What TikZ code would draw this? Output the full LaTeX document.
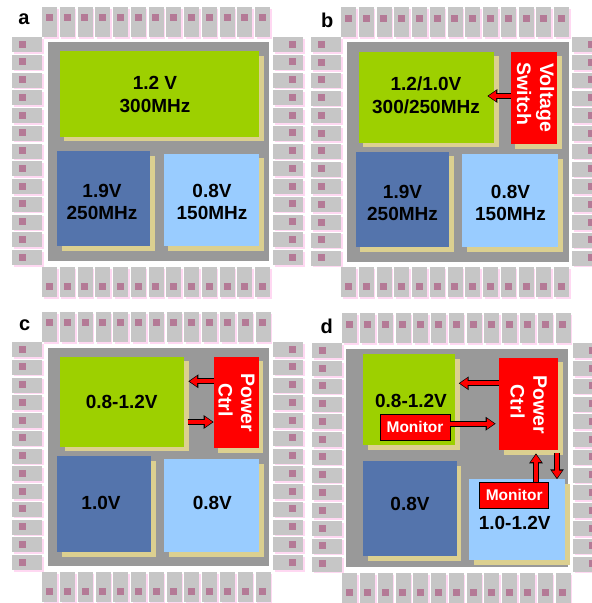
\documentclass[tikz,border=0pt]{standalone}
\usepackage{fontspec}
\setmainfont{Liberation Sans}
\usetikzlibrary{arrows.meta,fit,shadows}
\definecolor{diegrey}{HTML}{999999}
\definecolor{pingrey}{HTML}{C6C6C6}
\definecolor{pinedge}{HTML}{FFD8F2}
\definecolor{padmauve}{HTML}{B47A96}
\definecolor{cream}{HTML}{DCD090}
\definecolor{lime}{HTML}{9DD000}
\definecolor{steel}{HTML}{5474AC}
\definecolor{sky}{HTML}{99CCFF}
\definecolor{ctrlred}{HTML}{FF0000}
\newcommand{\chippins}[2]{%
\begin{scope}[shift={(#1,#2)}]
\foreach \i in {0,...,12} {
\pgfmathsetmacro{\off}{\i*17.77}
% top and bottom rows
\fill[pinedge] (\off+1.5,1.5) rectangle +(15,30);
\fill[pingrey] (\off,0) rectangle +(15,30);
\fill[padmauve] (\off+3.8,7.2) rectangle +(7,7);
\fill[pinedge] (\off+1.5,261.5) rectangle +(15,30);
\fill[pingrey] (\off,260) rectangle +(15,30);
\fill[padmauve] (\off+3.8,275.5) rectangle +(7,7);
% left and right rows
\fill[pinedge] (-28.5,\off+31.5) rectangle +(30,15);
\fill[pingrey] (-30,\off+30) rectangle +(30,15);
\fill[padmauve] (-23.1,\off+33.5) rectangle +(7,7);
\fill[pinedge] (232.5,\off+31.5) rectangle +(30,15);
\fill[pingrey] (231,\off+30) rectangle +(30,15);
\fill[padmauve] (246.5,\off+33.5) rectangle +(7,7);
}
\end{scope}}

\begin{document}
\begin{tikzpicture}[x=1pt,y=-1pt,font=\bfseries,
  area/.style={inner sep=0pt,outer sep=0pt,draw=none,drop shadow={shadow xshift=4.5pt,shadow yshift=-4.5pt,fill=cream,opacity=1}},
  greenarea/.style={area,fill=lime},
  bluearea/.style={area,fill=steel},
  skyarea/.style={area,fill=sky},
  ctrlarea/.style={area,fill=ctrlred},
  diebox/.style={inner sep=0pt,outer sep=0pt,fill=diegrey},
  panel/.style={font=\fontsize{20}{24}\selectfont\bfseries,inner sep=0pt},
  rail/.style={font=\fontsize{19}{22.7}\selectfont\bfseries,align=center,inner sep=0pt},
  ctrltext/.style={font=\fontsize{19.5}{22}\selectfont\bfseries,text=white,rotate=-90,inner sep=0pt},
  monitor/.style={draw=black,line width=.8pt,fill=ctrlred,text=white,inner sep=0pt,font=\fontsize{15.5}{18}\selectfont\bfseries},
  flow/.style={draw=ctrlred,line width=4.2pt,-{Triangle[length=7.5pt,width=10pt]},shorten >=1.3pt,
    preaction={draw=black,line width=6pt,shorten >=0pt,-{Triangle[length=10pt,width=13pt]}}}]
\useasboundingbox (0,0) rectangle (592,603);
\chippins{42}{7}
\chippins{341}{7.3}
\chippins{42.3}{312}
\chippins{342.3}{313.3}

% a
\node[diebox,fit={(48.3,42.3)(269.3,261)}] (diea) {};
\node[greenarea,fit={(59.7,51)(259,136.7)}] (greena) {};
\node[bluearea,fit={(57,151)(150.3,246.3)}] (bluea) {};
\node[skyarea,fit={(163.7,153.7)(259,246.3)}] (skya) {};
\node[panel] (laba) at (24,19) {a};
\node[rail] (txta1) at (155,94.5) {1.2 V\\300MHz};
\node[rail] (txta2) at (102,202) {1.9V\\250MHz};
\node[rail] (txta3) at (212,202) {0.8V\\150MHz};

% b
\node[diebox,fit={(346.7,42)(569,261.7)}] (dieb) {};
\node[greenarea,fit={(358.7,51.7)(494,142.7)}] (greenb) {};
\node[ctrlarea,fit={(510.7,51.7)(557.3,144)}] (switchb) {};
\node[bluearea,fit={(355.7,151.7)(449,247.3)}] (blueb) {};
\node[skyarea,fit={(462.3,154.3)(558,247.3)}] (skyb) {};
\node[panel] (labb) at (327.3,20) {b};
\node[rail] (txtb1) at (426,95.5) {1.2/1.0V\\300/250MHz};
\node[rail] (txtb2) at (402.5,203) {1.9V\\250MHz};
\node[rail] (txtb3) at (510.5,203) {0.8V\\150MHz};
\node[ctrltext] (txtb4) at (545,97.7) {Voltage};
\node[ctrltext] (txtb5) at (524,94) {Switch};
\coordinate (tipb) at (487.3,96);
\draw[flow] (switchb.west |- tipb) -- (tipb);

% c
\node[diebox,fit={(48.3,347.7)(269.3,566)}] (diec) {};
\node[greenarea,fit={(60,356.7)(184.3,446.7)}] (greenc) {};
\node[ctrlarea,fit={(213.7,356.7)(258.7,448.3)}] (ctrlc) {};
\node[bluearea,fit={(57.3,456)(151,552.3)}] (bluec) {};
\node[skyarea,fit={(164,459)(259.3,552.3)}] (skyc) {};
\node[panel] (labc) at (24.7,325.7) {c};
\node[rail] (txtc1) at (121.7,401.7) {0.8-1.2V};
\node[rail] (txtc2) at (101,502.7) {1.0V};
\node[rail] (txtc3) at (212.3,502.7) {0.8V};
\node[ctrltext] (txtc4) at (247.7,402.7) {Power};
\node[ctrltext] (txtc5) at (225.7,400) {Ctrl};
\coordinate (tipc) at (188.3,381.3);
\coordinate (tailc) at (187.7,422);
\draw[flow] (ctrlc.west |- tipc) -- (tipc);
\draw[flow] (tailc) -- (ctrlc.west |- tailc);

% d
\node[diebox,fit={(345.7,349)(567.7,567.3)}] (died) {};
\node[greenarea,fit={(363.3,354.3)(455.3,445)}] (greend) {};
\node[ctrlarea,fit={(499,357.7)(558,450)}] (ctrld) {};
\node[bluearea,fit={(363.3,461)(456.7,556.3)}] (blued) {};
\node[skyarea,fit={(469.3,479.3)(565.3,560.3)}] (skyd) {};
\node[panel] (labd) at (326.7,326) {d};
\node[rail] (txtd1) at (411,401) {0.8-1.2V};
\node[rail] (txtd2) at (410,504.3) {0.8V};
\node[rail] (txtd3) at (514.7,523.3) {1.0-1.2V};
\node[ctrltext] (txtd4) at (540,405) {Power};
\node[ctrltext] (txtd5) at (517.7,401.7) {Ctrl};
\node[monitor,minimum width=70pt,minimum height=26.7pt] (mond1) at (415,427.3) {Monitor};
\node[monitor,minimum width=69pt,minimum height=26pt] (mond2) at (514.2,495.3) {Monitor};
\coordinate (tipd1) at (458.7,383.3);
\coordinate (tipd2) at (495.7,423.7);
\coordinate (tipd3) at (536,453.3);
\coordinate (taild4) at (557,453.3);
\draw[flow] (ctrld.west |- tipd1) -- (tipd1);
\draw[flow] (mond1.east |- tipd2) -- (tipd2);
\draw[flow] (mond2.north -| tipd3) -- (tipd3);
\draw[flow] (taild4) -- (skyd.north -| taild4);
\end{tikzpicture}
\end{document}
